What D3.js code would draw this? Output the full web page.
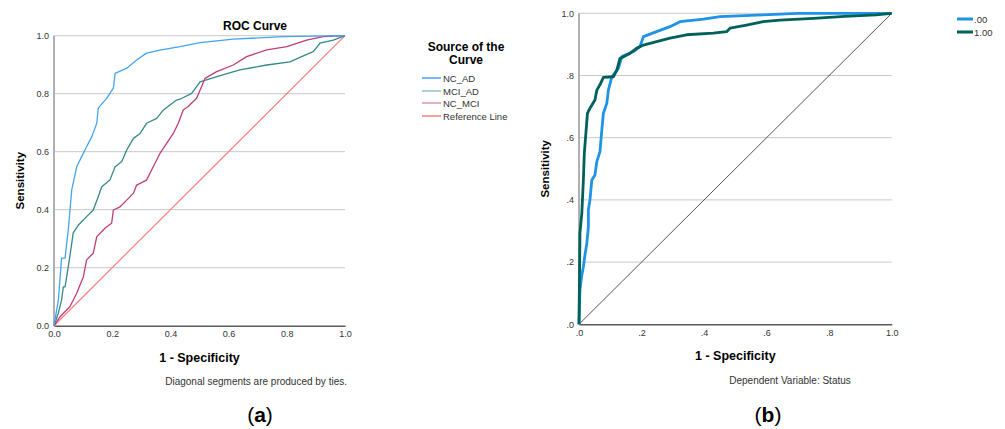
<!DOCTYPE html>
<html>
<head>
<meta charset="utf-8">
<script src="https://cdn.jsdelivr.net/npm/d3@7"></script>
<style>
  body { margin: 0; background: #fff; }
  text { font-family: Arial, "Liberation Sans", sans-serif; }
</style>
</head>
<body>
<svg id="chart" width="1005" height="429"></svg>
<script>
// ---- panel (a): ROC curves, [1 - specificity, sensitivity]
const ncAd = [[0,0],[0.015,0.088],[0.026,0.233],[0.038,0.233],[0.049,0.33],[0.055,0.40],[0.061,0.468],
  [0.078,0.548],[0.095,0.583],[0.112,0.617],[0.13,0.652],[0.147,0.698],[0.152,0.75],[0.181,0.784],
  [0.204,0.819],[0.21,0.87],[0.25,0.888],[0.284,0.916],[0.318,0.94],[0.364,0.95],[0.433,0.962],
  [0.502,0.976],[0.616,0.988],[0.787,0.997],[1,1]];
const mciAd = [[0,0],[0.015,0.044],[0.026,0.088],[0.032,0.134],[0.038,0.134],[0.049,0.203],[0.061,0.284],
  [0.066,0.32],[0.084,0.347],[0.112,0.376],[0.135,0.399],[0.152,0.445],[0.164,0.479],[0.192,0.502],
  [0.21,0.548],[0.233,0.566],[0.25,0.606],[0.273,0.646],[0.296,0.663],[0.318,0.698],[0.353,0.715],
  [0.376,0.744],[0.421,0.778],[0.433,0.781],[0.473,0.801],[0.502,0.841],[0.559,0.859],[0.639,0.882],
  [0.731,0.899],[0.811,0.91],[0.845,0.925],[0.891,0.945],[0.914,0.974],[0.96,0.985],[1,1]];
const ncMci = [[0,0],[0.021,0.031],[0.055,0.066],[0.078,0.112],[0.101,0.169],[0.112,0.227],[0.135,0.25],
  [0.147,0.307],[0.175,0.336],[0.198,0.353],[0.204,0.399],[0.227,0.41],[0.25,0.433],[0.273,0.457],
  [0.284,0.485],[0.318,0.502],[0.341,0.548],[0.364,0.594],[0.387,0.629],[0.41,0.663],[0.427,0.698],
  [0.444,0.744],[0.46,0.755],[0.49,0.784],[0.507,0.824],[0.519,0.853],[0.559,0.876],[0.616,0.899],
  [0.662,0.928],[0.731,0.951],[0.8,0.962],[0.868,0.985],[0.925,0.997],[1,1]];
const refLine = [[0,0],[1,1]];
const legendA = ["NC_AD", "MCI_AD", "NC_MCI", "Reference Line"];
const ticksA = [0, 0.2, 0.4, 0.6, 0.8, 1.0];

// ---- panel (b): ROC curves by status
const status00 = [[0,0],[0.003,0.11],[0.009,0.158],[0.014,0.185],[0.019,0.223],[0.025,0.26],[0.03,0.314],
  [0.03,0.368],[0.035,0.40],[0.038,0.432],[0.041,0.464],[0.051,0.48],[0.057,0.523],[0.067,0.555],
  [0.073,0.625],[0.078,0.678],[0.089,0.711],[0.094,0.753],[0.105,0.796],[0.126,0.823],[0.137,0.861],
  [0.174,0.877],[0.195,0.893],[0.206,0.925],[0.248,0.941],[0.291,0.957],[0.323,0.973],[0.398,0.981],
  [0.451,0.989],[0.589,0.995],[0.7,1],[1,1]];
const status100 = [[0,0],[0.003,0.293],[0.009,0.357],[0.012,0.421],[0.014,0.464],[0.017,0.55],[0.022,0.614],
  [0.027,0.678],[0.035,0.695],[0.051,0.721],[0.057,0.753],[0.067,0.77],[0.078,0.794],[0.11,0.796],
  [0.121,0.817],[0.131,0.855],[0.163,0.871],[0.185,0.888],[0.206,0.898],[0.248,0.909],[0.291,0.92],
  [0.344,0.931],[0.429,0.936],[0.472,0.941],[0.483,0.952],[0.536,0.962],[0.589,0.973],[0.643,0.978],
  [0.75,0.984],[0.85,0.99],[0.95,0.995],[1,1]];
const legendB = [".00", "1.00"];
const ticksB = [0, 0.2, 0.4, 0.6, 0.8, 1.0];

const svg = d3.select('#chart');

function drawPanel(cfg) {
    const x = d3.scaleLinear().domain([0, 1]).range([cfg.x0, cfg.x1]);
    const y = d3.scaleLinear().domain([0, 1]).range([cfg.y0, cfg.y1]);
    const g = svg.append('g');

    // gridlines
    g.selectAll('.grid').data(cfg.ticks.filter(d => d > 0))
        .enter().append('line')
        .attr('x1', cfg.x0).attr('x2', cfg.x1)
        .attr('y1', d => y(d)).attr('y2', d => y(d))
        .attr('stroke', '#c8c8c8').attr('stroke-width', 1);

    // left axis line
    g.append('line')
        .attr('x1', cfg.x0).attr('x2', cfg.x0)
        .attr('y1', cfg.y0).attr('y2', cfg.y1)
        .attr('stroke', '#b0b0b0').attr('stroke-width', 2);

    const fmt = cfg.fmt;
    const xAxis = d3.axisBottom(x).tickValues(cfg.ticks).tickFormat(fmt).tickSize(0).tickPadding(5);
    const gx = g.append('g').attr('transform', `translate(0,${cfg.y0})`).call(xAxis);
    gx.select('.domain').attr('stroke', '#5a5a5a').attr('stroke-width', 1.5);
    gx.selectAll('text').attr('font-size', 9).attr('fill', '#333');

    const yAxis = d3.axisLeft(y).tickValues(cfg.ticks).tickFormat(fmt).tickSize(0).tickPadding(5);
    const gy = g.append('g').attr('transform', `translate(${cfg.x0},0)`).call(yAxis);
    gy.select('.domain').remove();
    gy.selectAll('text').attr('font-size', 9).attr('fill', '#333');

    const line = d3.line().x(d => x(d[0])).y(d => y(d[1]));

    cfg.series.forEach(s => {
        g.append('path').datum(s.data)
            .attr('fill', 'none')
            .attr('stroke', s.color)
            .attr('stroke-width', s.width)
            .attr('stroke-linejoin', 'round')
            .attr('d', line);
    });

    // axis titles
    g.append('text')
        .attr('x', (cfg.x0 + cfg.x1) / 2).attr('y', cfg.y0 + 36)
        .attr('text-anchor', 'middle').attr('font-size', 12.5).attr('font-weight', 'bold')
        .text('1 - Specificity');
    g.append('text')
        .attr('transform', `translate(${cfg.x0 - 30},${(cfg.y0 + cfg.y1) / 2}) rotate(-90)`)
        .attr('text-anchor', 'middle').attr('font-size', 11.5).attr('font-weight', 'bold')
        .text('Sensitivity');
    return g;
}

// panel (a)
const seriesA = [
    {data: refLine, color: '#f08080', width: 1.2},
    {data: mciAd, color: '#338a86', width: 1.3},
    {data: ncMci, color: '#bf3d78', width: 1.3},
    {data: ncAd, color: '#44a4ec', width: 1.3}
];
drawPanel({x0: 54, x1: 345, y0: 325.7, y1: 35.7, ticks: ticksA, fmt: d3.format('.1f'), series: seriesA});

svg.append('text').attr('x', 255).attr('y', 30).attr('text-anchor', 'middle')
    .attr('font-size', 12).attr('font-weight', 'bold').text('ROC Curve');
svg.append('text').attr('x', 347).attr('y', 385).attr('text-anchor', 'end')
    .attr('font-size', 10).attr('fill', '#333').text('Diagonal segments are produced by ties.');

const legA = svg.append('g');
legA.append('text').attr('x', 466).attr('y', 51).attr('text-anchor', 'middle')
    .attr('font-size', 12).attr('font-weight', 'bold').text('Source of the');
legA.append('text').attr('x', 466).attr('y', 64).attr('text-anchor', 'middle')
    .attr('font-size', 12).attr('font-weight', 'bold').text('Curve');
const legColorsA = ['#44a4ec', '#8cc4c2', '#e090b4', '#f08080'];
const legYA = [78, 91, 103, 116];
legendA.forEach((name, i) => {
    legA.append('line').attr('x1', 422).attr('x2', 441)
        .attr('y1', legYA[i]).attr('y2', legYA[i])
        .attr('stroke', legColorsA[i]).attr('stroke-width', 1.5);
    legA.append('text').attr('x', 443).attr('y', legYA[i] + 3.5)
        .attr('font-size', 9.5).attr('fill', '#333').text(name);
});

// panel (b)
const fmtB = d => d === 1 ? '1.0' : d3.format('.1f')(d).replace(/^0/, '');
const seriesB = [
    {data: refLine, color: '#555', width: 1},
    {data: status00, color: '#1f93e6', width: 2.8},
    {data: status100, color: '#00605a', width: 2.8}
];
drawPanel({x0: 579, x1: 891.7, y0: 324.3, y1: 13.3, ticks: ticksB, fmt: fmtB, series: seriesB});

svg.append('text').attr('x', 790).attr('y', 384).attr('text-anchor', 'middle')
    .attr('font-size', 10).attr('fill', '#333').text('Dependent Variable: Status');

const legColorsB = ['#1f93e6', '#00605a'];
const legYB = [19, 32];
legendB.forEach((name, i) => {
    svg.append('line').attr('x1', 957).attr('x2', 973)
        .attr('y1', legYB[i]).attr('y2', legYB[i])
        .attr('stroke', legColorsB[i]).attr('stroke-width', 3);
    svg.append('text').attr('x', 974).attr('y', legYB[i] + 3.5)
        .attr('font-size', 9.5).attr('fill', '#333').text(name);
});

// panel labels
[{t: 'a', x: 260}, {t: 'b', x: 768}].forEach(p => {
    const lab = svg.append('text').attr('x', p.x).attr('y', 422).attr('text-anchor', 'middle')
        .attr('font-size', 21).attr('font-family', '"DejaVu Serif", "Liberation Serif", serif');
    lab.append('tspan').text('(');
    lab.append('tspan').attr('font-weight', 'bold').text(p.t);
    lab.append('tspan').text(')');
});
</script>
</body>
</html>
